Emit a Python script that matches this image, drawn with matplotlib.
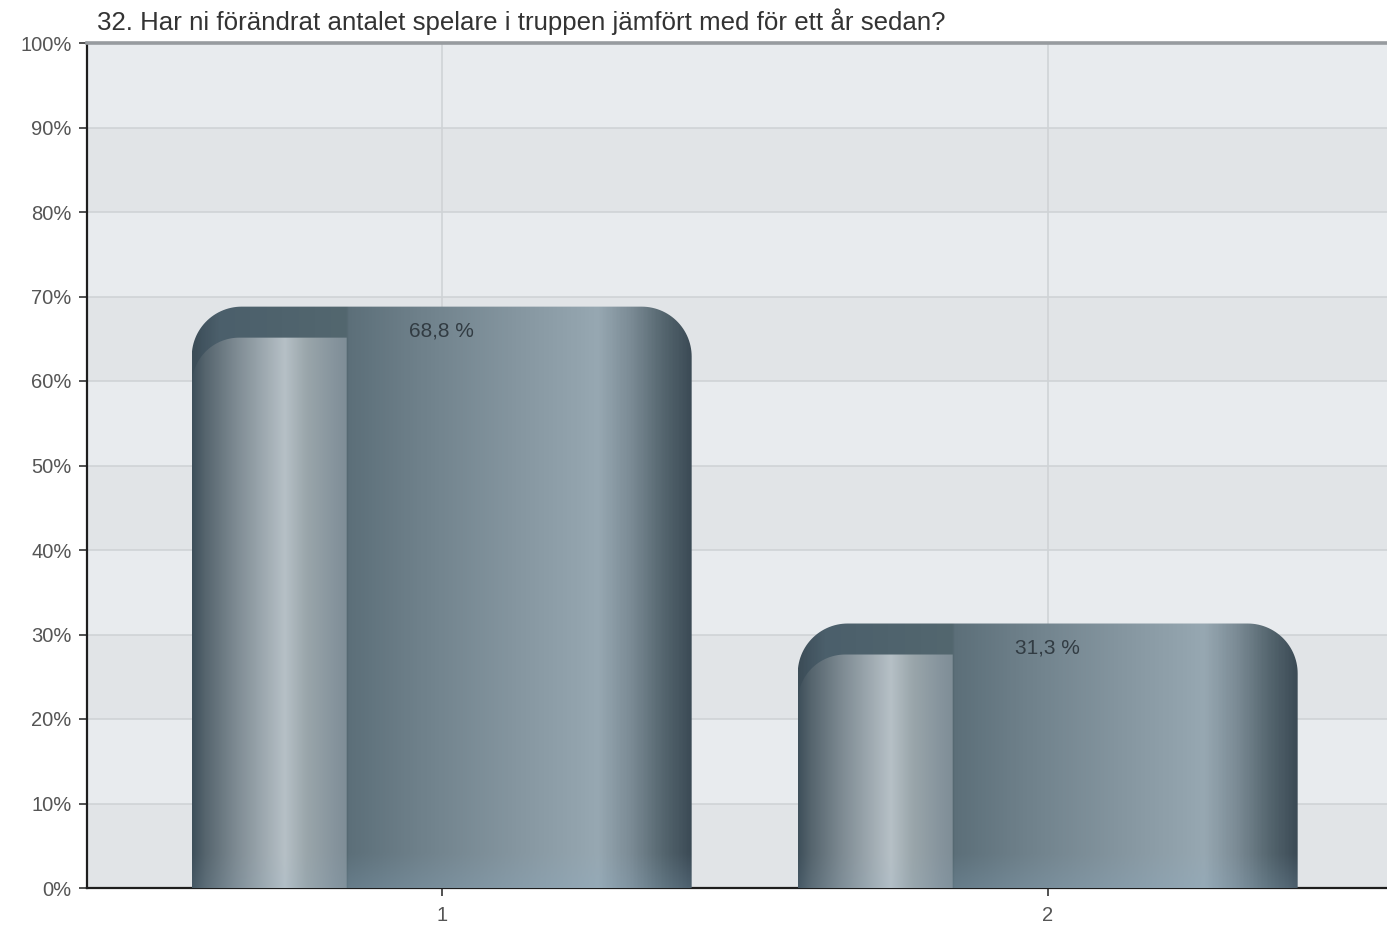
import numpy as np
import matplotlib.pyplot as plt
from matplotlib.colors import LinearSegmentedColormap, to_rgb
from matplotlib.path import Path
from matplotlib.patches import PathPatch

# data
categories = ["1", "2"]
values = [68.8, 31.3]
value_labels = ["68,8 %", "31,3 %"]
title = "32. Har ni förändrat antalet spelare i truppen jämfört med för ett år sedan?"
yticks = list(range(0, 101, 10))

plt.rcParams["font.family"] = ["Liberation Sans", "DejaVu Sans"]

W, H, DPI = 1387, 926, 100
fig = plt.figure(figsize=(W / DPI, H / DPI), dpi=DPI)
fig.patch.set_facecolor("white")

ax_left, ax_bottom, ax_w, ax_h = 87, 926 - 888, 1300, 845
ax = fig.add_axes([ax_left / W, ax_bottom / H, ax_w / W, ax_h / H])
xmin, xmax = 0.4147, 2.5599
ymin, ymax = 0, 100

px_x = ax_w / (xmax - xmin)
px_y = ax_h / (ymax - ymin)

bar_width = 0.825
front_frac = 0.31
depth = 31 / px_y
rx, ry = 50 / px_x, 50 / px_y

# colour stops across the bar
back_cmap = LinearSegmentedColormap.from_list("back", [
    (0.0, "#3c4d58"), (0.05, "#4b5f6b"), (0.309, "#53676f"), (0.311, "#5c6f79"),
    (0.45, "#6e808a"), (0.65, "#8596a0"), (0.815, "#97a8b2"), (0.88, "#7b8b95"),
    (0.945, "#55666f"), (1.0, "#3c4b56")])
front_cmap = LinearSegmentedColormap.from_list("front", [
    (0.0, "#3e4f5a"), (0.084, "#56656e"), (0.28, "#7d8a92"), (0.6, "#b6c0c6"),
    (0.74, "#9aa6ab"), (0.92, "#86949d"), (1.0, "#7f8e97")])


def rounded_top(x0, x1, top, rx, ry, right=True, n=30):
    verts = [(x0, -5)]
    th = np.linspace(np.pi, np.pi / 2, n)
    verts += list(zip(x0 + rx + rx * np.cos(th), top - ry + ry * np.sin(th)))
    if right:
        th = np.linspace(np.pi / 2, 0, n)
        verts += list(zip(x1 - rx + rx * np.cos(th), top - ry + ry * np.sin(th)))
    else:
        verts.append((x1, top))
    verts.append((x1, -5))
    verts.append((x0, -5))
    return Path(verts, closed=True)


def gradient_image(cmap, top, tint):
    cols = cmap(np.linspace(0, 1, 400))[:, :3]
    rows = 300
    yy = np.linspace(0, top, rows)
    img = np.repeat(cols[None, :, :], rows, axis=0)
    blue = np.array(to_rgb("#8fb2cc"))
    a = np.clip(1 - yy / 4.0, 0, 1) * tint
    img = img * (1 - a[:, None, None]) + blue * a[:, None, None]
    return img


def draw_bar(xc, h):
    x0, x1 = xc - bar_width / 2, xc + bar_width / 2
    back = PathPatch(rounded_top(x0, x1, h, rx, ry), transform=ax.transData,
                     facecolor="none", edgecolor="none")
    ax.add_patch(back)
    im = ax.imshow(gradient_image(back_cmap, h, 0.2), extent=(x0, x1, 0, h),
                   origin="lower", aspect="auto", interpolation="bilinear", zorder=3)
    im.set_clip_path(back)

    fx1 = x0 + front_frac * bar_width
    fh = h - depth
    front = PathPatch(rounded_top(x0, fx1, fh, rx * 0.95, ry * 0.95, right=False),
                      transform=ax.transData, facecolor="none", edgecolor="none")
    ax.add_patch(front)
    im2 = ax.imshow(gradient_image(front_cmap, fh, 0.1), extent=(x0, fx1, 0, fh),
                    origin="lower", aspect="auto", interpolation="bilinear", zorder=4)
    im2.set_clip_path(front)


# background bands
ax.set_facecolor("#e8ebee")
for y in range(0, 100, 20):
    ax.axhspan(y, y + 10, color="#e1e4e7", zorder=0, lw=0)

x = np.arange(1, len(categories) + 1)
for xi, v, lab in zip(x, values, value_labels):
    draw_bar(xi, v)
    ax.text(xi, v - 2.9, lab, ha="center", va="center", fontsize=15,
            color="#323c43", zorder=6)

ax.set_xlim(xmin, xmax)
ax.set_ylim(ymin, ymax)
ax.set_xticks(x)
ax.set_xticklabels(categories)
ax.set_yticks(yticks)
ax.set_yticklabels([f"{v}%" for v in yticks])

ax.set_axisbelow(True)
ax.grid(True, color="#cfd3d6", lw=1.2)

for s in ["left", "bottom"]:
    ax.spines[s].set_color("#1e1e1e")
    ax.spines[s].set_linewidth(1.6)
ax.spines["top"].set_color("#979b9f")
ax.spines["top"].set_linewidth(2.6)
ax.spines["right"].set_visible(False)

ax.tick_params(axis="y", length=6, width=1.2, color="#333333", labelcolor="#555555",
               labelsize=14.5, pad=5)
ax.tick_params(axis="x", length=6, width=1.2, color="#333333", labelcolor="#555555",
               labelsize=14.5, pad=7)

fig.text(97 / W, 1 - 22 / H, title, fontsize=18.6, color="#333333",
         ha="left", va="center")

fig.savefig("out.png", dpi=DPI)
